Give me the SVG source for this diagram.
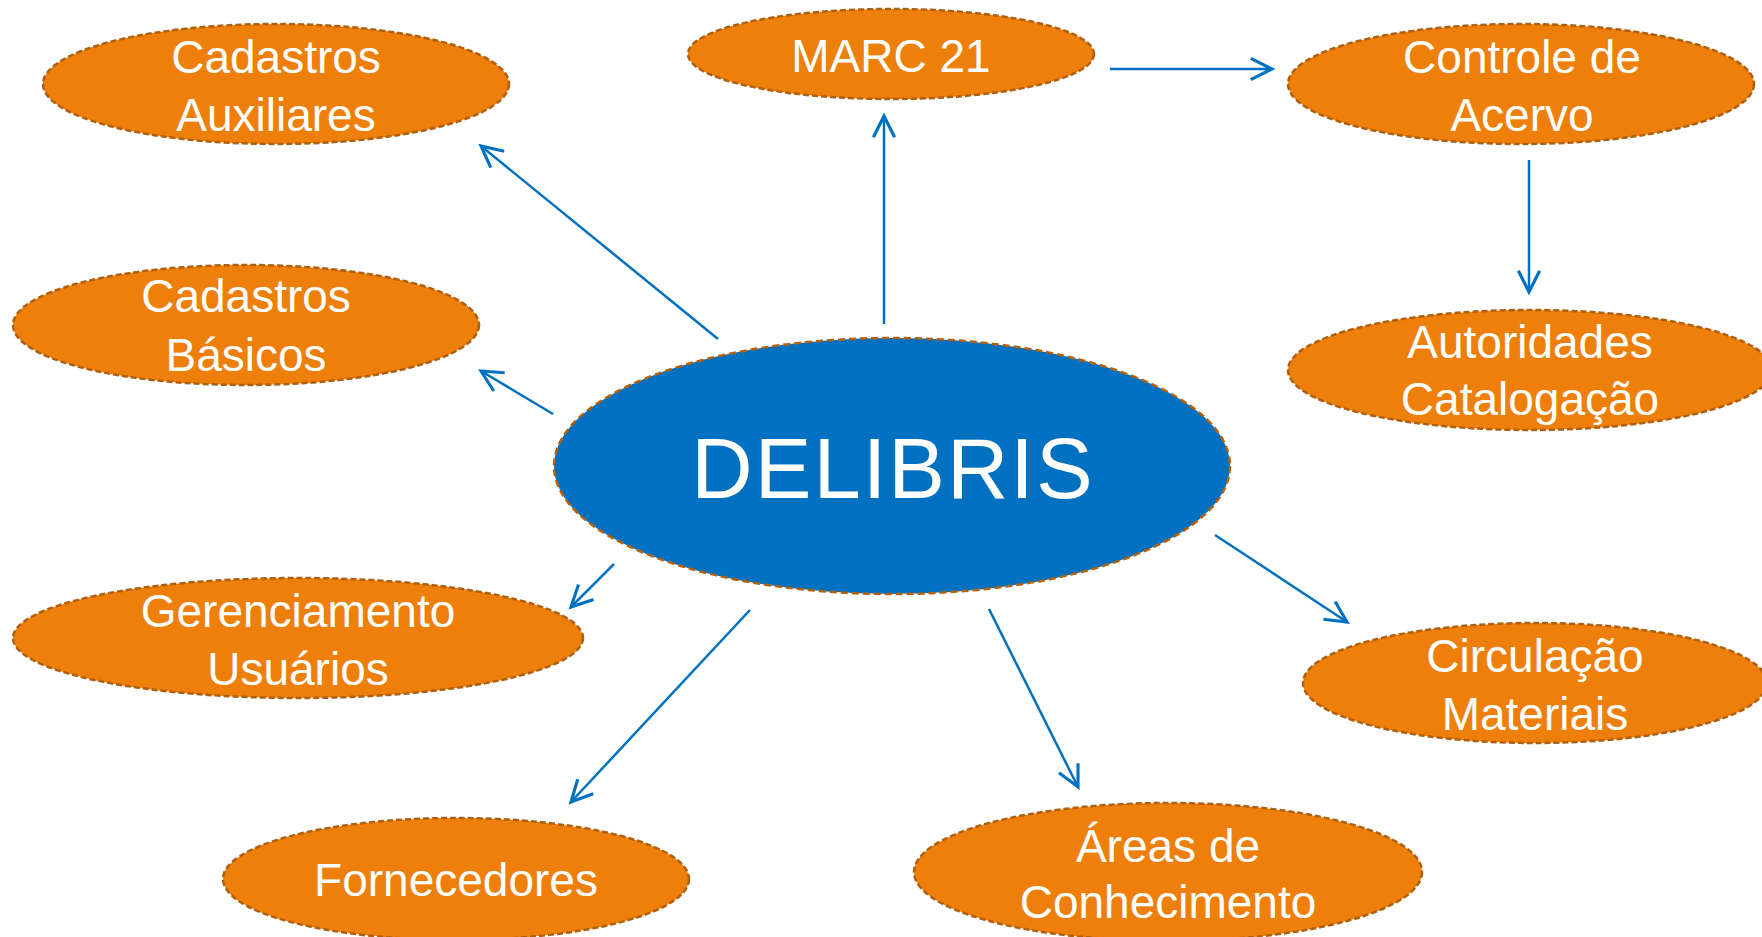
<svg xmlns="http://www.w3.org/2000/svg" width="1762" height="937" viewBox="0 0 1762 937">
<style>
.node{fill:#EE7F0B;stroke:#B05F0E;stroke-width:2.5;stroke-dasharray:6 3}
.hub{fill:#0070C0;stroke:#B5600C;stroke-width:2.5;stroke-dasharray:7 4}
.lbl{font-family:"Liberation Sans",Arial,sans-serif;font-size:46px;fill:#FFFFFF;text-anchor:middle}
.big{font-family:"Liberation Sans",Arial,sans-serif;font-size:85px;fill:#FFFFFF;text-anchor:middle;letter-spacing:2px}
.edge{stroke:#0070C0;stroke-width:2.5;fill:none;marker-end:url(#arr)}
</style>
<defs>
<marker id="arr" markerUnits="userSpaceOnUse" markerWidth="30" markerHeight="30" viewBox="-20 -12 24 24" refX="0" refY="0" orient="auto">
<path d="M-17,-8.5 L0,0 L-17,8.5" fill="none" stroke="#0070C0" stroke-width="2.5"/>
</marker>
</defs>
<rect width="1762" height="937" fill="#FFFFFF"/>
<g id="connectors">
<line class="edge" x1="718" y1="339" x2="481" y2="146"/>
<line class="edge" x1="553" y1="414" x2="481" y2="371"/>
<line class="edge" x1="884" y1="324" x2="884" y2="116"/>
<line class="edge" x1="1110" y1="69" x2="1272" y2="69"/>
<line class="edge" x1="1529" y1="160" x2="1529" y2="292"/>
<line class="edge" x1="614" y1="564" x2="571" y2="607"/>
<line class="edge" x1="750" y1="610" x2="571" y2="802"/>
<line class="edge" x1="989" y1="609" x2="1078" y2="787"/>
<line class="edge" x1="1215" y1="535" x2="1347" y2="622"/>
</g>
<g id="cadastros-auxiliares">
<ellipse class="node" cx="276" cy="84" rx="233" ry="60"/>
<text class="lbl" x="276" y="73">Cadastros</text>
<text class="lbl" x="276" y="131">Auxiliares</text>
</g>
<g id="cadastros-basicos">
<ellipse class="node" cx="246" cy="325" rx="233" ry="60"/>
<text class="lbl" x="246" y="312">Cadastros</text>
<text class="lbl" x="246" y="371">Básicos</text>
</g>
<g id="marc21">
<ellipse class="node" cx="891" cy="54" rx="203" ry="45"/>
<text class="lbl" x="891" y="72">MARC 21</text>
</g>
<g id="controle-acervo">
<ellipse class="node" cx="1521" cy="84" rx="233" ry="60"/>
<text class="lbl" x="1522" y="73">Controle de</text>
<text class="lbl" x="1522" y="131">Acervo</text>
</g>
<g id="autoridades">
<ellipse class="node" cx="1530" cy="370" rx="242" ry="60"/>
<text class="lbl" x="1530" y="358">Autoridades</text>
<text class="lbl" x="1530" y="415">Catalogação</text>
</g>
<g id="delibris">
<ellipse class="hub" cx="892" cy="466" rx="338" ry="128"/>
<text class="big" x="893" y="498">DELIBRIS</text>
</g>
<g id="gerenciamento">
<ellipse class="node" cx="298" cy="638" rx="285" ry="60"/>
<text class="lbl" x="298" y="627">Gerenciamento</text>
<text class="lbl" x="298" y="685">Usuários</text>
</g>
<g id="fornecedores">
<ellipse class="node" cx="456" cy="879" rx="233" ry="61"/>
<text class="lbl" x="456" y="896">Fornecedores</text>
</g>
<g id="areas">
<ellipse class="node" cx="1168" cy="872" rx="254" ry="69"/>
<text class="lbl" x="1168" y="862">Áreas de</text>
<text class="lbl" x="1168" y="918">Conhecimento</text>
</g>
<g id="circulacao">
<ellipse class="node" cx="1535" cy="683" rx="232" ry="60"/>
<text class="lbl" x="1535" y="672">Circulação</text>
<text class="lbl" x="1535" y="730">Materiais</text>
</g>
</svg>
